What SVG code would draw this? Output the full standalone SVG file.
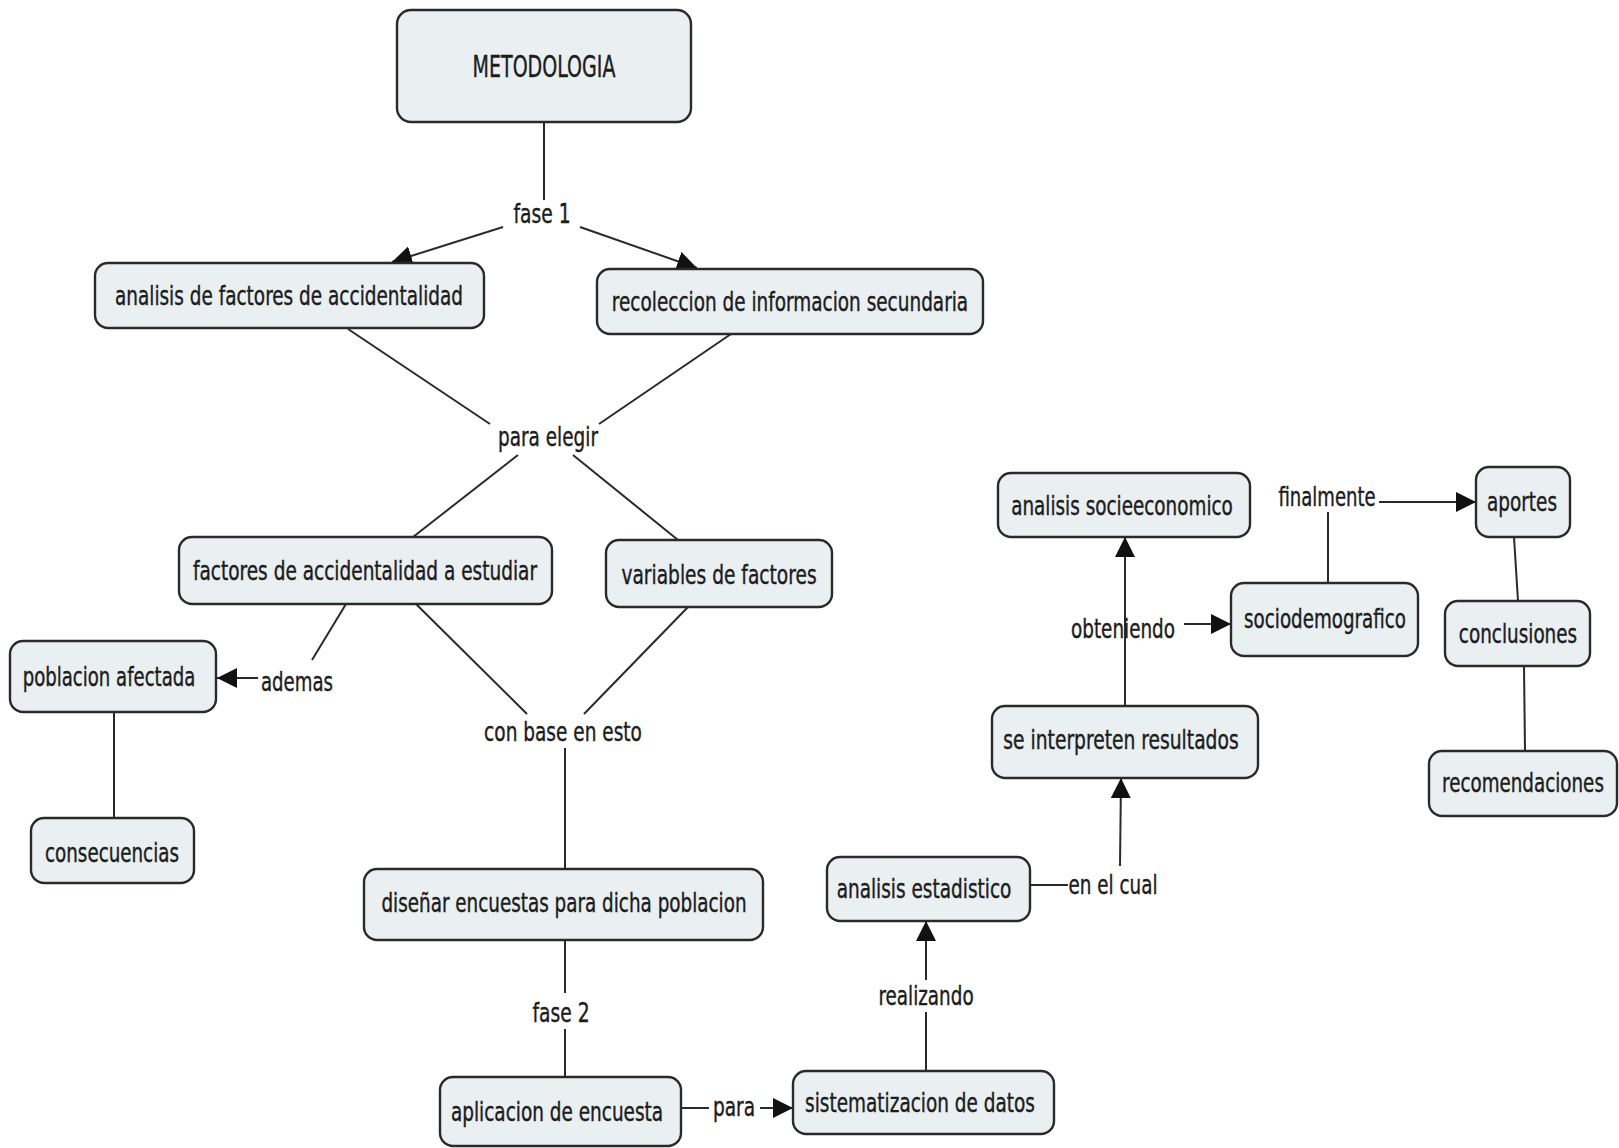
<svg xmlns="http://www.w3.org/2000/svg" width="1619" height="1148" viewBox="0 0 1619 1148">
<style>
.box{fill:#eaeff2;stroke:#2a2a2a;stroke-width:2.4}
.t{font-family:"DejaVu Sans Condensed","DejaVu Sans",sans-serif;font-size:27px;fill:#1c1c1c;stroke:#1c1c1c;stroke-width:0.4;text-anchor:middle}
.c{stroke:#2a2a2a;stroke-width:2;fill:none}
</style>
<defs>
<marker id="ah" markerUnits="userSpaceOnUse" markerWidth="22" markerHeight="20" refX="20" refY="10" orient="auto">
<path d="M0,0 L20,10 L0,20 Z" fill="#111"/>
</marker>
</defs>
<rect width="1619" height="1148" fill="#fff"/>
<g id="connectors">
<line class="c" x1="544" y1="122" x2="544" y2="200"/>
<line class="c" x1="503" y1="227" x2="392" y2="262" marker-end="url(#ah)"/>
<line class="c" x1="580" y1="227" x2="697" y2="268" marker-end="url(#ah)"/>
<line class="c" x1="348" y1="329" x2="490" y2="424"/>
<line class="c" x1="731" y1="334" x2="599" y2="424"/>
<line class="c" x1="518" y1="455" x2="413" y2="537"/>
<line class="c" x1="573" y1="455" x2="678" y2="540"/>
<line class="c" x1="346" y1="604" x2="312" y2="660"/>
<line class="c" x1="258" y1="678" x2="217" y2="678" marker-end="url(#ah)"/>
<line class="c" x1="114" y1="712" x2="114" y2="818"/>
<line class="c" x1="416" y1="604" x2="527" y2="714"/>
<line class="c" x1="688" y1="607" x2="584" y2="714"/>
<line class="c" x1="565" y1="748" x2="565" y2="869"/>
<line class="c" x1="565" y1="940" x2="565" y2="993"/>
<line class="c" x1="565" y1="1029" x2="565" y2="1077"/>
<line class="c" x1="681" y1="1108" x2="709" y2="1108"/>
<line class="c" x1="760" y1="1108" x2="793" y2="1108" marker-end="url(#ah)"/>
<line class="c" x1="926" y1="1071" x2="926" y2="1012"/>
<line class="c" x1="926" y1="980" x2="926" y2="921" marker-end="url(#ah)"/>
<line class="c" x1="1030" y1="885" x2="1068" y2="885"/>
<line class="c" x1="1120" y1="866" x2="1121" y2="778" marker-end="url(#ah)"/>
<line class="c" x1="1125" y1="706" x2="1125" y2="537" marker-end="url(#ah)"/>
<line class="c" x1="1184" y1="624" x2="1231" y2="624" marker-end="url(#ah)"/>
<line class="c" x1="1328" y1="583" x2="1328" y2="512"/>
<line class="c" x1="1379" y1="502" x2="1476" y2="502" marker-end="url(#ah)"/>
<line class="c" x1="1514" y1="537" x2="1518" y2="601"/>
<line class="c" x1="1524" y1="666" x2="1525" y2="751"/>
</g>
<g id="labels">
<text class="t" transform="translate(542,223) scale(0.68,1)" textLength="84" lengthAdjust="spacingAndGlyphs">fase 1</text>
<text class="t" transform="translate(548,446) scale(0.68,1)" textLength="147" lengthAdjust="spacingAndGlyphs">para elegir</text>
<text class="t" transform="translate(297,691) scale(0.68,1)" textLength="106" lengthAdjust="spacingAndGlyphs">ademas</text>
<text class="t" transform="translate(563,741) scale(0.68,1)" textLength="232" lengthAdjust="spacingAndGlyphs">con base en esto</text>
<text class="t" transform="translate(561,1022) scale(0.68,1)" textLength="84" lengthAdjust="spacingAndGlyphs">fase 2</text>
<text class="t" transform="translate(734,1116) scale(0.68,1)" textLength="62" lengthAdjust="spacingAndGlyphs">para</text>
<text class="t" transform="translate(926,1005) scale(0.68,1)" textLength="140" lengthAdjust="spacingAndGlyphs">realizando</text>
<text class="t" transform="translate(1113,894) scale(0.68,1)" textLength="131" lengthAdjust="spacingAndGlyphs">en el cual</text>
<text class="t" transform="translate(1123,638) scale(0.68,1)" textLength="153" lengthAdjust="spacingAndGlyphs">obteniendo</text>
<text class="t" transform="translate(1327,506) scale(0.68,1)" textLength="143" lengthAdjust="spacingAndGlyphs">finalmente</text>
</g>
<g id="n-metodologia"><rect class="box" x="397" y="10" width="294" height="112" rx="14"/><text class="t" transform="translate(544,77) scale(0.68,1)" style="font-size:30px" textLength="210" lengthAdjust="spacingAndGlyphs">METODOLOGIA</text></g>
<g id="n-analisis-factores"><rect class="box" x="95" y="263" width="389" height="65" rx="13"/><text class="t" transform="translate(289,305) scale(0.68,1)" textLength="512" lengthAdjust="spacingAndGlyphs">analisis de factores de accidentalidad</text></g>
<g id="n-recoleccion"><rect class="box" x="597" y="269" width="386" height="65" rx="13"/><text class="t" transform="translate(790,311) scale(0.68,1)" textLength="524" lengthAdjust="spacingAndGlyphs">recoleccion de informacion secundaria</text></g>
<g id="n-factores-estudiar"><rect class="box" x="179" y="537" width="373" height="67" rx="13"/><text class="t" transform="translate(365,580) scale(0.68,1)" textLength="506" lengthAdjust="spacingAndGlyphs">factores de accidentalidad a estudiar</text></g>
<g id="n-variables"><rect class="box" x="606" y="540" width="226" height="67" rx="13"/><text class="t" transform="translate(719,584) scale(0.68,1)" textLength="287" lengthAdjust="spacingAndGlyphs">variables de factores</text></g>
<g id="n-poblacion"><rect class="box" x="10" y="641" width="206" height="71" rx="13"/><text class="t" transform="translate(109,686) scale(0.68,1)" textLength="254" lengthAdjust="spacingAndGlyphs">poblacion afectada</text></g>
<g id="n-consecuencias"><rect class="box" x="31" y="818" width="163" height="65" rx="13"/><text class="t" transform="translate(112,862) scale(0.68,1)" textLength="197" lengthAdjust="spacingAndGlyphs">consecuencias</text></g>
<g id="n-disenar"><rect class="box" x="364" y="869" width="399" height="71" rx="13"/><text class="t" transform="translate(564,912) scale(0.68,1)" textLength="537" lengthAdjust="spacingAndGlyphs">diseñar encuestas para dicha poblacion</text></g>
<g id="n-aplicacion"><rect class="box" x="440" y="1077" width="241" height="69" rx="13"/><text class="t" transform="translate(557,1121) scale(0.68,1)" textLength="312" lengthAdjust="spacingAndGlyphs">aplicacion de encuesta</text></g>
<g id="n-sistematizacion"><rect class="box" x="793" y="1071" width="261" height="63" rx="13"/><text class="t" transform="translate(920,1112) scale(0.68,1)" textLength="338" lengthAdjust="spacingAndGlyphs">sistematizacion de datos</text></g>
<g id="n-estadistico"><rect class="box" x="827" y="857" width="203" height="64" rx="13"/><text class="t" transform="translate(924,898) scale(0.68,1)" textLength="257" lengthAdjust="spacingAndGlyphs">analisis estadistico</text></g>
<g id="n-interpreten"><rect class="box" x="992" y="706" width="266" height="72" rx="13"/><text class="t" transform="translate(1121,749) scale(0.68,1)" textLength="346" lengthAdjust="spacingAndGlyphs">se interpreten resultados</text></g>
<g id="n-socieeconomico"><rect class="box" x="998" y="473" width="252" height="64" rx="13"/><text class="t" transform="translate(1122,515) scale(0.68,1)" textLength="326" lengthAdjust="spacingAndGlyphs">analisis socieeconomico</text></g>
<g id="n-sociodemografico"><rect class="box" x="1231" y="583" width="187" height="73" rx="13"/><text class="t" transform="translate(1325,628) scale(0.68,1)" textLength="238" lengthAdjust="spacingAndGlyphs">sociodemografico</text></g>
<g id="n-aportes"><rect class="box" x="1476" y="467" width="94" height="70" rx="13"/><text class="t" transform="translate(1522,511) scale(0.68,1)" textLength="103" lengthAdjust="spacingAndGlyphs">aportes</text></g>
<g id="n-conclusiones"><rect class="box" x="1445" y="601" width="145" height="65" rx="13"/><text class="t" transform="translate(1518,643) scale(0.68,1)" textLength="174" lengthAdjust="spacingAndGlyphs">conclusiones</text></g>
<g id="n-recomendaciones"><rect class="box" x="1429" y="751" width="188" height="65" rx="13"/><text class="t" transform="translate(1523,792) scale(0.68,1)" textLength="238" lengthAdjust="spacingAndGlyphs">recomendaciones</text></g>
</svg>
